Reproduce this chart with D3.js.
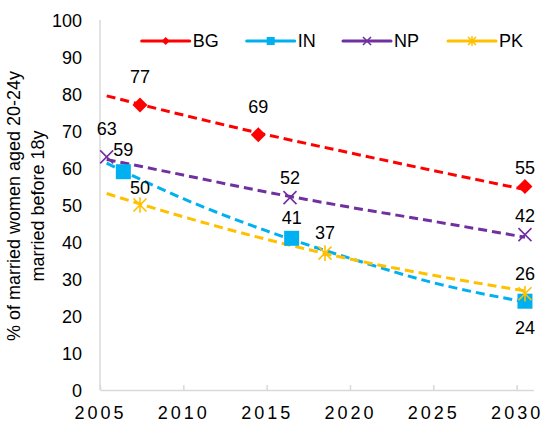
<!DOCTYPE html>
<html>
<head>
<meta charset="utf-8">
<script src="https://cdn.jsdelivr.net/npm/d3@7"></script>
<style>
  body { margin: 0; background: #fff; }
  text { font-family: Arial, "Liberation Sans", sans-serif; fill: #000; }
</style>
</head>
<body>
<svg id="chart" width="549" height="426"></svg>
<script>
  'use strict';

  var series = ['BG', 'IN', 'NP', 'PK'];
  var colors = ['#ff0000', '#00b0f0', '#7030a0', '#ffc000'];

  // survey points (year, value)
  var bgYears = [2007.4, 2014.5, 2030.5];
  var bgValues = [77, 69, 55];
  var inYears = [2006.4, 2016.5, 2030.5];
  var inValues = [59, 41, 24];
  var npYears = [2005.4, 2016.4, 2030.5];
  var npValues = [63, 52, 42];
  var pkYears = [2007.4, 2018.5, 2030.5];
  var pkValues = [50, 37, 26];

  // dashed trend lines
  var trendYears = [2005.4, 2010, 2015, 2020, 2025, 2030.5];
  var bgTrend = [79.5, 74.3, 69.0, 64.1, 59.3, 54.2];
  var inTrend = [61.3, 51.7, 43.0, 35.6, 29.0, 23.8];
  var npTrend = [62.3, 58.1, 53.5, 49.4, 45.6, 41.3];
  var pkTrend = [53.1, 46.8, 40.7, 35.4, 31.0, 26.8];

  var xTicks = [2005, 2010, 2015, 2020, 2025, 2030];
  var yTicks = [0, 10, 20, 30, 40, 50, 60, 70, 80, 90, 100];

  var markedPoints = [
    { years: bgYears, values: bgValues, trend: bgTrend },
    { years: inYears, values: inValues, trend: inTrend },
    { years: npYears, values: npValues, trend: npTrend },
    { years: pkYears, values: pkValues, trend: pkTrend }
  ];

  // label offsets (dy) per point: above unless stated
  var labelDy = [[-28, -28, -19], [-22, -21, 26], [-28, -20, -19], [-17, -20, -20]];
  var labelDx = [[0, 0, 0], [0, 0, 0], [0, 0, 0], [0, 0, 0]];

  var svg = d3.select('#chart');

  var x = d3.scaleLinear().domain([2005, 2031]).range([100, 533.3]);
  var y = d3.scaleLinear().domain([0, 100]).range([390, 20]);

  // axes
  svg.append('line')
    .attr('x1', x(2005)).attr('x2', x(2005))
    .attr('y1', y(100)).attr('y2', y(0))
    .attr('stroke', '#d9d9d9').attr('stroke-width', 1.5);

  var xAxis = svg.append('g')
    .attr('transform', 'translate(0,' + y(0) + ')')
    .call(d3.axisBottom(x).tickValues(xTicks).tickSizeInner(-5).tickSizeOuter(0).tickFormat(d3.format('d')));
  xAxis.select('.domain').attr('stroke', '#d9d9d9').attr('stroke-width', 1.5);
  xAxis.selectAll('.tick line').attr('stroke', '#d9d9d9').attr('stroke-width', 1.5);
  xAxis.selectAll('.tick text')
    .attr('y', 29).attr('dy', 0)
    .style('font-size', '18px')
    .style('letter-spacing', '3px')
    .style('font-family', 'Arial, "Liberation Sans", sans-serif')
    .attr('fill', '#000');

  var yAxis = svg.append('g')
    .attr('transform', 'translate(82,0)')
    .call(d3.axisLeft(y).tickValues(yTicks).tickSize(0));
  yAxis.select('.domain').remove();
  yAxis.selectAll('.tick text')
    .attr('x', 0)
    .attr('dy', '0.35em')
    .style('font-size', '18px')
    .style('font-family', 'Arial, "Liberation Sans", sans-serif')
    .attr('fill', '#000');

  // y title
  var title = svg.append('text')
    .attr('transform', 'translate(20,206) rotate(-90)')
    .attr('text-anchor', 'middle')
    .style('font-size', '18px');
  title.append('tspan').attr('x', 0).attr('dy', 0).text('% of married women aged 20-24y');
  title.append('tspan').attr('x', 0).attr('dy', 24).text('married before 18y');

  // trend lines
  var trendLine = d3.line()
    .x(function (d) { return x(d[0]); })
    .y(function (d) { return y(d[1]); })
    .curve(d3.curveMonotoneX);

  markedPoints.forEach(function (s, i) {
    var pts = trendYears.map(function (yr, j) { return [yr, s.trend[j]]; });
    svg.append('path')
      .datum(pts)
      .attr('d', trendLine)
      .attr('fill', 'none')
      .attr('stroke', colors[i])
      .attr('stroke-width', 3)
      .attr('stroke-dasharray', '9,5');
  });

  function drawMarker(g, i, size) {
    var c = colors[i];
    var h = size / 2;
    if (i === 0) {
      g.append('path')
        .attr('d', 'M0,' + (-h) + 'L' + h + ',0L0,' + h + 'L' + (-h) + ',0Z')
        .attr('fill', c);
    } else if (i === 1) {
      g.append('rect')
        .attr('x', -h).attr('y', -h).attr('width', size).attr('height', size)
        .attr('fill', c);
    } else if (i === 2) {
      g.append('path')
        .attr('d', 'M' + (-h) + ',' + (-h) + 'L' + h + ',' + h + 'M' + (-h) + ',' + h + 'L' + h + ',' + (-h))
        .attr('stroke', c).attr('stroke-width', 1.6).attr('fill', 'none');
    } else {
      g.append('path')
        .attr('d', 'M' + (-h) + ',' + (-h) + 'L' + h + ',' + h + 'M' + (-h) + ',' + h + 'L' + h + ',' + (-h) +
          'M0,' + (-h * 1.2) + 'L0,' + (h * 1.2))
        .attr('stroke', c).attr('stroke-width', 1.6).attr('fill', 'none');
    }
  }

  var markerSizes = [15, 15, 13, 13];

  markedPoints.forEach(function (s, i) {
    s.years.forEach(function (yr, j) {
      var g = svg.append('g')
        .attr('transform', 'translate(' + x(yr) + ',' + y(s.values[j]) + ')');
      drawMarker(g, i, markerSizes[i]);
    });
  });

  // data labels
  markedPoints.forEach(function (s, i) {
    s.years.forEach(function (yr, j) {
      svg.append('text')
        .attr('x', x(yr) + labelDx[i][j])
        .attr('y', y(s.values[j]) + labelDy[i][j])
        .attr('dy', '0.35em')
        .attr('text-anchor', 'middle')
        .style('font-size', '18px')
        .text(s.values[j]);
    });
  });

  // legend
  var legendX = [141.7, 246.7, 343, 448];
  var legend = svg.append('g').attr('transform', 'translate(0,41)');
  series.forEach(function (name, i) {
    var g = legend.append('g').attr('transform', 'translate(' + legendX[i] + ',0)');
    g.append('line')
      .attr('x1', 0).attr('x2', 48)
      .attr('stroke', colors[i]).attr('stroke-width', 3)
      .attr('stroke-linecap', 'round');
    var m = g.append('g').attr('transform', 'translate(24,0)');
    drawMarker(m, i, 8);
    g.append('text')
      .attr('x', 51).attr('dy', '0.35em')
      .style('font-size', '18px')
      .text(name);
  });
</script>
</body>
</html>
